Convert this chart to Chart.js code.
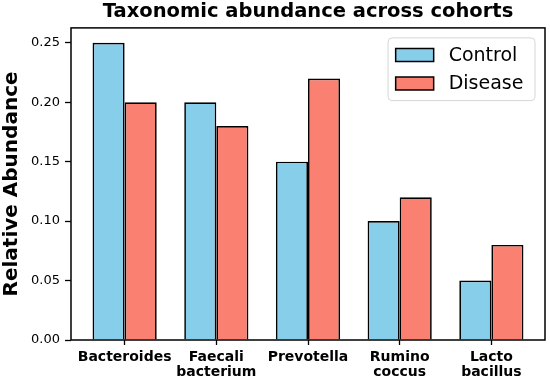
<!DOCTYPE html>
<html>
<head>
<meta charset="utf-8">
<script src="https://cdn.jsdelivr.net/npm/chart.js@4"></script>
<style>
  html, body { margin: 0; padding: 0; background: #ffffff; }
  #wrap { width: 550px; height: 382px; }
</style>
</head>
<body>
<div id="wrap"><canvas id="abundanceChart" width="550" height="382"></canvas></div>
<script>
// Taxa shown on the x axis (split as printed under the bars)
const taxa = [
    ['Bacteroides'],
    ['Faecali', 'bacterium'],
    ['Prevotella'],
    ['Rumino', 'coccus'],
    ['Lacto', 'bacillus']
];
const controlValues = [0.25, 0.20, 0.15, 0.10, 0.05];
const diseaseValues = [0.20, 0.18, 0.22, 0.12, 0.08];
const yTicks = [0.00, 0.05, 0.10, 0.15, 0.20, 0.25];

const FONT = "'DejaVu Sans', 'Liberation Sans', sans-serif";

// Black frame around the plot area (matplotlib style spines)
const frameBox = {
    id: 'frameBox',
    afterDraw(chart) {
        const a = chart.chartArea;
        const ctx = chart.ctx;
        ctx.save();
        ctx.strokeStyle = '#000';
        ctx.lineWidth = 1.5;
        ctx.strokeRect(a.left, a.top, a.right - a.left, a.bottom - a.top);
        ctx.restore();
    }
};

// Legend inside the upper right corner, built from the datasets
const cornerLegend = {
    id: 'cornerLegend',
    afterDraw(chart) {
        const a = chart.chartArea;
        const ctx = chart.ctx;
        const fs = 19;
        const pad = 7.6, handle = 38, gap = 15, spacing = 9.5;
        ctx.save();
        ctx.font = fs + 'px ' + FONT;
        const sets = chart.data.datasets;
        const textW = Math.max(...sets.map(d => ctx.measureText(d.label).width));
        const w = pad + handle + gap + textW + pad + 4;
        const h = pad * 2 + fs * sets.length + spacing * (sets.length - 1);
        const x = a.right - 10 - w;
        const y = a.top + 10;

        ctx.beginPath();
        ctx.roundRect(x, y, w, h, 4);
        ctx.fillStyle = 'rgba(255,255,255,0.8)';
        ctx.fill();
        ctx.strokeStyle = '#d6d6d6';
        ctx.lineWidth = 1;
        ctx.stroke();

        sets.forEach((d, i) => {
            const cy = y + pad + fs / 2 + i * (fs + spacing);
            ctx.fillStyle = d.backgroundColor;
            ctx.fillRect(x + pad, cy - 6.5, handle, 13);
            ctx.strokeStyle = '#000';
            ctx.lineWidth = 1.5;
            ctx.strokeRect(x + pad, cy - 6.5, handle, 13);
            ctx.fillStyle = '#000';
            ctx.textBaseline = 'middle';
            ctx.fillText(d.label, x + pad + handle + gap, cy + 1);
        });
        ctx.restore();
    }
};

const ctx = document.getElementById('abundanceChart').getContext('2d');
new Chart(ctx, {
    type: 'bar',
    data: {
        datasets: [
            {
                label: 'Control',
                data: controlValues.map((v, i) => ({ x: i, y: v })),
                backgroundColor: '#87CEEB',
                borderColor: '#000000',
                borderWidth: 1.7,
                categoryPercentage: 0.7,
                barPercentage: 1.0
            },
            {
                label: 'Disease',
                data: diseaseValues.map((v, i) => ({ x: i, y: v })),
                backgroundColor: '#FA8072',
                borderColor: '#000000',
                borderWidth: 1.7,
                categoryPercentage: 0.7,
                barPercentage: 1.0
            }
        ]
    },
    options: {
        responsive: false,
        animation: false,
        layout: { padding: { left: 0, right: 5, top: 0, bottom: 0 } },
        plugins: {
            legend: { display: false },
            tooltip: { enabled: false },
            title: {
                display: true,
                text: 'Taxonomic abundance across cohorts',
                fullSize: false,
                color: '#000',
                font: { family: FONT, size: 19.5, weight: 'bold' },
                padding: { top: 0.5, bottom: 4 }
            }
        },
        scales: {
            x: {
                type: 'linear',
                min: -0.585,
                max: 4.585,
                offset: false,
                afterBuildTicks: axis => { axis.ticks = taxa.map((t, i) => ({ value: i })); },
                afterFit: axis => { axis.height = 42; },
                grid: {
                    offset: false,
                    drawOnChartArea: false,
                    drawTicks: true,
                    tickLength: 5,
                    tickColor: '#000',
                    tickWidth: 1.3
                },
                border: { display: false },
                ticks: {
                    autoSkip: false,
                    maxRotation: 0,
                    padding: 5,
                    color: '#000',
                    font: { family: FONT, size: 14, weight: 'bold', lineHeight: '15px' },
                    callback: value => taxa[value]
                }
            },
            y: {
                min: 0,
                max: 0.2625,
                afterBuildTicks: axis => { axis.ticks = yTicks.map(v => ({ value: v })); },
                afterFit: axis => { axis.width = 71; },
                grid: {
                    drawOnChartArea: false,
                    drawTicks: true,
                    tickLength: 6,
                    tickColor: '#000',
                    tickWidth: 1.3
                },
                border: { display: false },
                title: {
                    display: true,
                    text: 'Relative Abundance',
                    color: '#000',
                    font: { family: FONT, size: 20, weight: 'bold' },
                    padding: { top: 0, bottom: 0 }
                },
                ticks: {
                    padding: 5,
                    color: '#000',
                    font: { family: FONT, size: 13 },
                    callback: value => value.toFixed(2)
                }
            }
        }
    },
    plugins: [frameBox, cornerLegend]
});
</script>
</body>
</html>
